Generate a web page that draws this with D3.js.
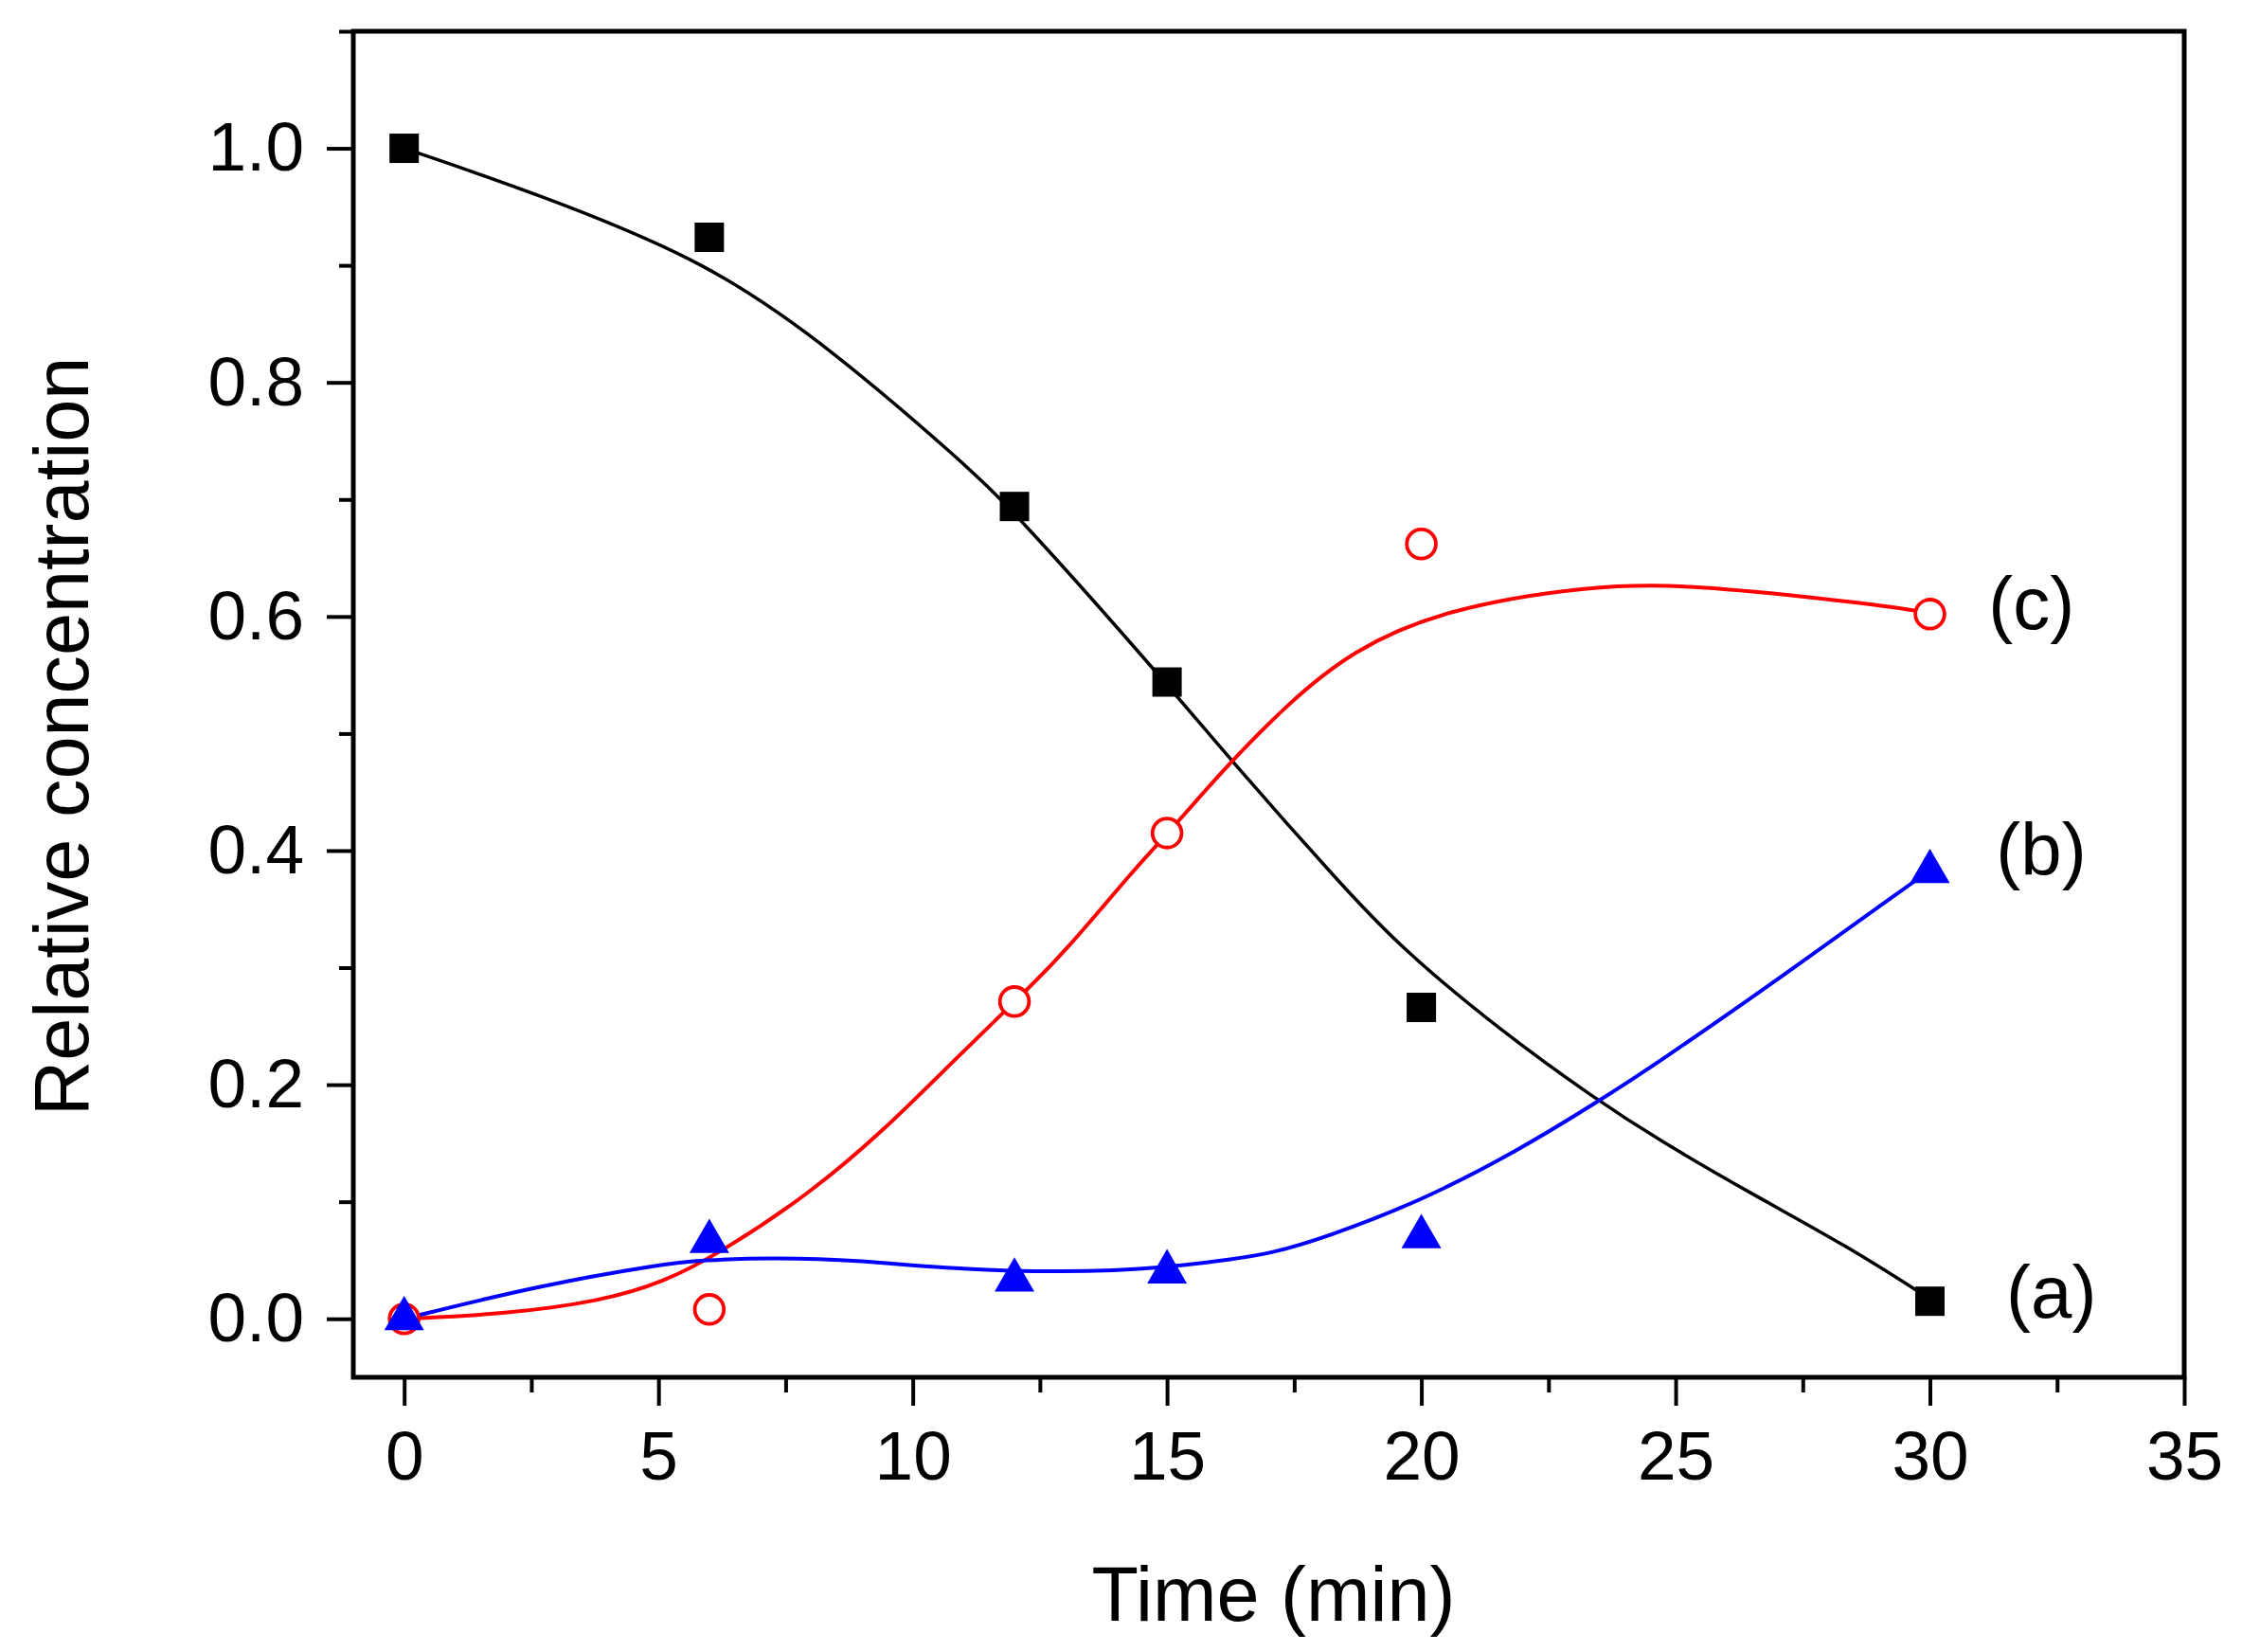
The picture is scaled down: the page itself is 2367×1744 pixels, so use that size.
<!DOCTYPE html>
<html>
<head>
<meta charset="utf-8">
<script src="https://cdn.jsdelivr.net/npm/d3@7"></script>
<style>
  body { margin: 0; background: white; }
  text { font-family: "Liberation Sans", Arial, sans-serif; fill: black; }
</style>
</head>
<body>
<div id="chart"></div>
<script>
// measured points (time in min)
const times = [0, 6, 12, 15, 20, 30];
const seriesA = [1.0, 0.924, 0.694, 0.544, 0.266, 0.015];   // squares, black
const seriesB = [0.0, 0.066, 0.033, 0.040, 0.070, 0.382];   // triangles, blue
const seriesC = [0.0, 0.008, 0.271, 0.415, 0.662, 0.602];   // open circles, red

// fitted curves: [time, value]
const fitA = [[0, 1.0], [2.57, 0.962], [6, 0.903], [8.5, 0.825], [10.9, 0.735], [12, 0.69],
  [15.05, 0.54], [16.28, 0.476], [18.4, 0.372], [19.57, 0.318], [21.5, 0.248], [23.48, 0.186],
  [24.66, 0.153], [26.52, 0.106], [28.38, 0.062], [30, 0.017]];
const fitB = [[0, 0.0], [2.6, 0.028], [5.1, 0.047], [5.85, 0.050], [7.27, 0.0525], [9.05, 0.0496],
  [10.48, 0.0434], [12.97, 0.039], [15.11, 0.044], [16.28, 0.051], [17.02, 0.0555], [18.14, 0.0698],
  [20.0, 0.1008], [21.86, 0.1425], [23.48, 0.1857], [24.66, 0.219], [26.98, 0.289], [29.7, 0.374],
  [30, 0.383]];
const fitC = [[0, 0.0], [2, 0.004], [3.86, 0.015], [5.1, 0.031], [6.28, 0.058], [7.99, 0.1075],
  [9.41, 0.160], [10.84, 0.222], [12.03, 0.272], [12.97, 0.312], [14.39, 0.386], [15.03, 0.415],
  [15.97, 0.463], [17.4, 0.527], [18.65, 0.571], [20.4, 0.606], [23.4, 0.627], [25.2, 0.627],
  [27.56, 0.617], [29.7, 0.606], [30, 0.602]];

// curve labels and where they sit (data units, baseline)
const labelText = ["(a)", "(b)", "(c)"];
const labelTime = [31.5, 31.3, 31.15];
const labelValue = [0.001, 0.379, 0.589];

const xMajorTicks = [0, 5, 10, 15, 20, 25, 30, 35];
const xMinorTicks = [2.5, 7.5, 12.5, 17.5, 22.5, 27.5, 32.5];
const yMajorTicks = [0.0, 0.2, 0.4, 0.6, 0.8, 1.0];
const yMinorTicks = [0.1, 0.3, 0.5, 0.7, 0.9, 1.1];

const width = 2367;
const height = 1744;
const margins = { top: 33, bottom: 290, left: 373, right: 61 };

const svg = d3.select("#chart").append("svg")
  .attr("width", width)
  .attr("height", height);

svg.append("rect").attr("width", width).attr("height", height).attr("fill", "white");

const x = d3.scaleLinear().domain([-1, 35]).range([margins.left, width - margins.right]);
const y = d3.scaleLinear().domain([-0.05, 1.1]).range([height - margins.bottom, margins.top]);

// axes
const tickFont = 73;
svg.append("g")
  .attr("transform", `translate(0,${height - margins.bottom})`)
  .call(d3.axisBottom(x).tickValues(xMajorTicks).tickFormat(d3.format("d")).tickSize(30).tickPadding(26));
svg.append("g")
  .attr("transform", `translate(0,${height - margins.bottom})`)
  .call(d3.axisBottom(x).tickValues(xMinorTicks).tickFormat("").tickSize(16));

svg.append("g")
  .attr("transform", `translate(${margins.left},0)`)
  .call(d3.axisLeft(y).tickValues(yMajorTicks).tickFormat(d3.format(".1f")).tickSize(28).tickPadding(24));
svg.append("g")
  .attr("transform", `translate(${margins.left},0)`)
  .call(d3.axisLeft(y).tickValues(yMinorTicks).tickFormat("").tickSize(15));

svg.selectAll(".domain").remove();
svg.selectAll(".tick line").attr("stroke", "black").attr("stroke-width", 4);
svg.selectAll(".tick text")
  .style("font-size", `${tickFont}px`)
  .style("font-family", '"Liberation Sans", Arial, sans-serif')
  .attr("fill", "black");

// frame
svg.append("rect")
  .attr("x", x(-1))
  .attr("y", y(1.1))
  .attr("width", x(35) - x(-1))
  .attr("height", y(-0.05) - y(1.1))
  .attr("fill", "none")
  .attr("stroke", "black")
  .attr("stroke-width", 5);

// axis titles
svg.append("text")
  .attr("x", (x(-1) + x(35)) / 2 + 5)
  .attr("y", 1711)
  .attr("text-anchor", "middle")
  .style("font-size", "81px")
  .text("Time (min)");

svg.append("text")
  .attr("transform", `translate(93,${(y(-0.05) + y(1.1)) / 2 + 34}) rotate(-90)`)
  .attr("text-anchor", "middle")
  .style("font-size", "81px")
  .text("Relative concentration");

// fitted curves (smoothed through the read-off points)
const line = d3.line()
  .x(d => x(d[0]))
  .y(d => y(d[1]))
  .curve(d3.curveBasis);

const curves = [
  { pts: fitA, color: "#000000", w: 3.5 },
  { pts: fitC, color: "#ff0000", w: 4 },
  { pts: fitB, color: "#0000ff", w: 4 }
];
curves.forEach(c => {
  svg.append("path")
    .attr("d", line(c.pts))
    .attr("fill", "none")
    .attr("stroke", c.color)
    .attr("stroke-width", c.w);
});

// markers
const markerSets = [
  { vals: seriesA, type: d3.symbolSquare, size: 31 * 31, fill: "black", stroke: "none", sw: 0 },
  { vals: seriesC, type: d3.symbolCircle, size: 740, fill: "white", stroke: "#ff0000", sw: 3.8 },
  { vals: seriesB, type: d3.symbolTriangle, size: 764, fill: "#0000ff", stroke: "none", sw: 0 }
];
markerSets.forEach(m => {
  svg.append("g").selectAll("path")
    .data(times.map((t, i) => [t, m.vals[i]]))
    .join("path")
    .attr("transform", d => `translate(${x(d[0])},${y(d[1])})`)
    .attr("d", d3.symbol().type(m.type).size(m.size))
    .attr("fill", m.fill)
    .attr("stroke", m.stroke)
    .attr("stroke-width", m.sw);
});

// curve labels
svg.append("g").selectAll("text")
  .data(labelText)
  .join("text")
  .attr("x", (d, i) => x(labelTime[i]))
  .attr("y", (d, i) => y(labelValue[i]))
  .style("font-size", "78px")
  .text(d => d);
</script>
</body>
</html>
